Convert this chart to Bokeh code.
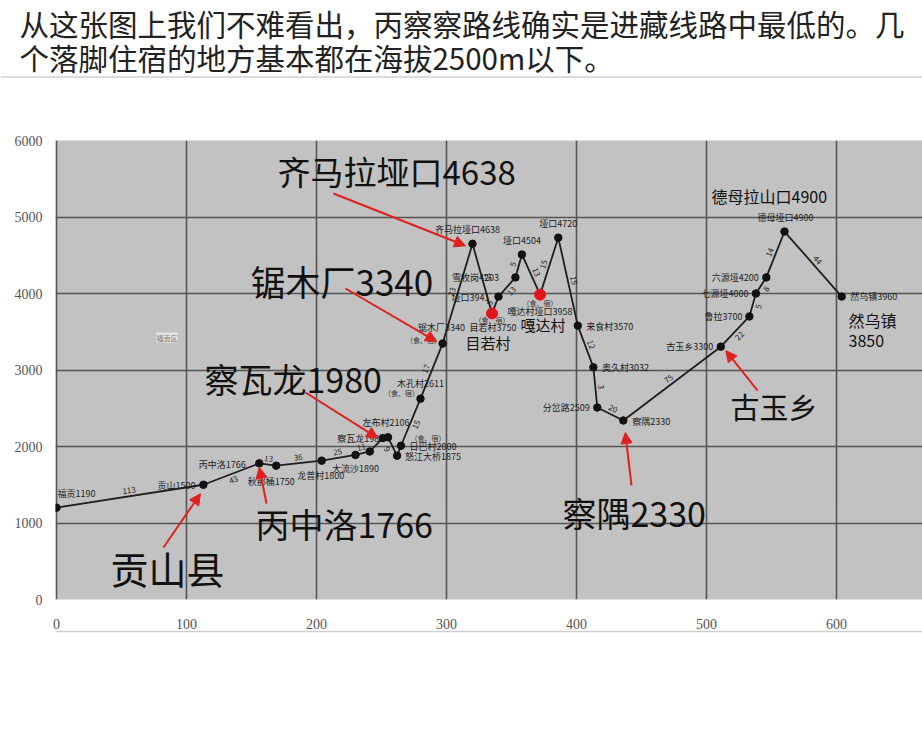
import math
from bokeh.plotting import figure
from bokeh.layouts import column
from bokeh.models import Range1d, FixedTicker, Label, Arrow, NormalHead, ColumnDataSource, LinearAxis
from bokeh.core.properties import value
from bokeh.embed import file_html
from bokeh.resources import INLINE

# ---------------- data ----------------
title_lines = ["从这张图上我们不难看出，丙察察路线确实是进藏线路中最低的。几",
               "个落脚住宿的地方基本都在海拔2500m以下。"]

station_labels = ["福贡1190", "贡山1500", "丙中洛1766", "秋那桶1750", "龙普村1800", "大流沙1890", "",
                  "察瓦龙1980", "左布村2106", "怒江大桥1875", "日巴村2000", "木孔村2611", "锯木厂3340",
                  "齐马拉垭口4638", "目若村3750", "垭口3941", "雪牧岗4203", "垭口4504", "嘎达村垭口3958",
                  "垭口4720", "来食村3570", "奥久村3032", "分岔路2509", "察隅2330", "古玉乡3300",
                  "鲁拉3700", "七源垭4000", "六源垭4200", "德母垭口4900", "然乌镇3960"]
km = [0, 113, 156, 169, 204, 230, 241, 251, 255, 262, 265, 280, 297, 320, 335, 340, 353, 358, 372,
      386, 401, 413, 416, 436, 511, 533, 538, 546, 560, 604]
elev = [1200, 1500, 1780, 1750, 1815, 1890, 1935, 2110, 2120, 1880, 2010, 2625, 3345, 4650, 3740,
        3960, 4210, 4510, 3985, 4730, 3580, 3035, 2510, 2340, 3305, 3700, 4000, 4210, 4810, 3960]
segment_km = ["113", "43", "13", "36", "25", "11", "", "", "9", "", "15", "17", "23", "15", "5", "13",
              "5", "13", "15", "15", "12", "3", "20", "75", "22", "5", "8", "14", "44"]
lodging = [10, 11, 12, 14, 18]          # stations marked (食、宿)
red_stops = [14, 18]                      # 目若村, 嘎达村

x_ticks = [0, 100, 200, 300, 400, 500, 600]
y_ticks = [0, 1000, 2000, 3000, 4000, 5000, 6000]

callouts = ["齐马拉垭口4638", "锯木厂3340", "察瓦龙1980", "丙中洛1766", "贡山县", "察隅2330", "古玉乡"]
callout_target = [13, 12, 7, 2, 1, 23, 24]
minor_notes = ["德母拉山口4900", "目若村", "嘎达村", "然乌镇", "3850"]

# ---------------- layout ----------------
W, H = 922, 738
TOP_H = 78
FL, FT, FW, FH = 55, 140, 867, 459     # frame in page pixels
PXX = 1.3                               # px per km
PXY = FH / 6000.0
X0 = -1 / PXX
X1 = X0 + FW / PXX
Y0, Y1 = 0.0, 6000.0


def rx(px):
    return X0 + (px - FL) / PXX


def ry(py):
    return Y1 - (py - FT) / PXY


FONT = "Noto Sans CJK SC"

# ---- title strip ----
top = figure(width=W, height=TOP_H, x_range=Range1d(0, W), y_range=Range1d(TOP_H, 0),
             output_backend="svg", toolbar_location=None, title=None, frame_align=False,
             x_axis_type=None, y_axis_type=None, min_border=0,
             background_fill_color="white", border_fill_color="white", outline_line_color=None)
top.xgrid.visible = False
top.ygrid.visible = False
top.text(x=[19, 19], y=[22, 56], text=title_lines, text_font=value(FONT), text_font_size="29.5px",
         text_color="#222222", text_baseline="middle", text_align="left")
top.line(x=[0, W], y=[76.5, 76.5], line_color="#dcdcdc", line_width=2)

# ---- main chart ----
p = figure(width=W, height=H - TOP_H, x_range=Range1d(X0, X1), y_range=Range1d(Y0, Y1),
           output_backend="svg", toolbar_location=None, title=None, frame_align=False,
           min_border_left=FL, min_border_right=0, min_border_top=FT - TOP_H,
           min_border_bottom=H - FT - FH,
           background_fill_color="#c2c2c2", border_fill_color="white", outline_line_color=None)

for ax, ticks in ((p.xaxis[0], x_ticks), (p.yaxis[0], y_ticks)):
    ax.ticker = FixedTicker(ticks=ticks)
    ax.axis_line_color = None
    ax.major_tick_line_color = None
    ax.minor_tick_line_color = None
    ax.major_tick_out = 0
    ax.major_tick_in = 0
    ax.major_label_text_font = "Liberation Serif"
    ax.major_label_text_font_size = "14px"
    ax.major_label_text_color = "#555555"
p.yaxis[0].major_label_standoff = 13
p.xaxis[0].major_label_standoff = 19

# faint rule under the x labels (an empty axis whose line sits below the labels)
rule = LinearAxis(ticker=FixedTicker(ticks=[]), axis_line_color="#cfcfcf", axis_line_width=1.5,
                  major_tick_line_color=None, minor_tick_line_color=None,
                  major_label_text_font_size="0px")
p.add_layout(rule, "below")

for g in (p.xgrid, p.ygrid):
    g.grid_line_color = "#555555"
    g.grid_line_width = 1.6

# profile
p.line(km, elev, line_color="#1e1e1e", line_width=1.8)
p.scatter(km, elev, size=7.5, color="#111111")
p.scatter([km[i] for i in red_stops], [elev[i] for i in red_stops], size=11,
          color="#e4141e")

# segment distance labels along the line
seg_side = [1, -1, 1, 1, 1, 1, 1, 1, -1, 1, -1, 1, 1, 1, 1, -1, 1, 1, 1, 1, 1, 1, 1, 1, -1, -1, -1, 1, 1]
sx, sy, sa, sox, soy = [], [], [], [], []
for i in range(len(km) - 1):
    dx = (km[i + 1] - km[i]) * PXX
    dy = (elev[i + 1] - elev[i]) * PXY
    ln = math.hypot(dx, dy) or 1
    nx, ny = -dy / ln * 6 * seg_side[i], dx / ln * 6 * seg_side[i]
    sx.append((km[i] + km[i + 1]) / 2)
    sy.append((elev[i] + elev[i + 1]) / 2)
    sa.append(math.atan2(dy, dx))
    sox.append(nx)
    soy.append(-ny)
p.text(x=sx, y=sy, text=segment_km, angle=sa, x_offset=sox, y_offset=soy,
       text_font=value(FONT), text_font_size="8px", text_color="#222222",
       text_align="center", text_baseline="middle")

# station labels (offsets in screen px from the station point)
lab_off = [(20, -14), (-27, 1), (-37, 1), (-5, 16), (-1, 15), (0, 14), (0, 0),
           (-22, 0), (-2, -15), (36, 1), (32, 1), (0, -15), (-1, -16),
           (-5, -14), (1, 14), (-28, 1), (-40, 0), (0, -14), (0, 17),
           (0, -14), (32, 1), (32, 0), (-31, 0), (28, 1), (-31, 0),
           (-26, 0), (-31, 0), (-31, 0), (1, -14), (32, 0)]
p.text(x=km, y=elev, text=station_labels,
       x_offset=[o[0] for o in lab_off], y_offset=[o[1] for o in lab_off],
       text_font=value(FONT), text_font_size="9px", text_color="#1c1c1c",
       text_align="center", text_baseline="middle")

lodge_off = {10: (27, -8), 11: (-19, -6), 12: (-19, -4), 14: (0, 7), 18: (0, 8)}
p.text(x=[km[i] for i in lodging], y=[elev[i] for i in lodging], text=["（食、宿）"] * len(lodging),
       x_offset=[lodge_off[i][0] for i in lodging], y_offset=[lodge_off[i][1] for i in lodging],
       text_font=value(FONT), text_font_size="7px", text_color="#333333",
       text_align="center", text_baseline="middle")

# small stray tag
p.add_layout(Label(x=rx(156), y=ry(337), text="福贡区", text_font=FONT, text_font_size="7px",
                   text_color="#777777", background_fill_color="#e4e4e4", text_baseline="middle"))

# big callouts
call_pos = [(277, 170, 33), (250, 280, 35), (204, 378, 34), (255, 523, 34), (110, 567, 38),
            (562, 512, 34), (730, 405, 29)]
for txt, (lx, ly, fs) in zip(callouts, call_pos):
    p.add_layout(Label(x=rx(lx), y=ry(ly), text=txt, text_font=FONT, text_font_size=f"{fs}px",
                       text_color="#111111", text_baseline="middle", text_align="left"))

minor_pos = [(711, 195, 16), (465, 342, 15), (520, 324, 15), (848, 319, 16), (848, 340, 16)]
for txt, (lx, ly, fs) in zip(minor_notes, minor_pos):
    p.add_layout(Label(x=rx(lx), y=ry(ly), text=txt, text_font=FONT, text_font_size=f"{fs}px",
                       text_color="#111111", text_baseline="middle", text_align="left"))

# red arrows: tail near the callout text, head at the station
arrow_tail = [(333, 193), (345, 288), (305, 392), (266, 503), (163, 547), (631, 485), (757, 390)]
head_gap = [(-7, 2), (-6, -2), (-5, 0), (0, 4), (-3, 9), (2, 12), (5, 4)]
ax0, ay0, ax1, ay1 = [], [], [], []
for (tx, ty), idx, (gx, gy) in zip(arrow_tail, callout_target, head_gap):
    ax0.append(rx(tx))
    ay0.append(ry(ty))
    ax1.append(km[idx] + gx / PXX)
    ay1.append(elev[idx] - gy / PXY)
arr_src = ColumnDataSource(dict(x0=ax0, y0=ay0, x1=ax1, y1=ay1))
p.add_layout(Arrow(source=arr_src, x_start="x0", y_start="y0", x_end="x1", y_end="y1",
                   line_color="#e0201f", line_width=2,
                   end=NormalHead(size=11, fill_color="#e0201f", line_color="#e0201f")))

layout = column(top, p, spacing=0)
open("out.html", "w").write(file_html(layout, INLINE))
